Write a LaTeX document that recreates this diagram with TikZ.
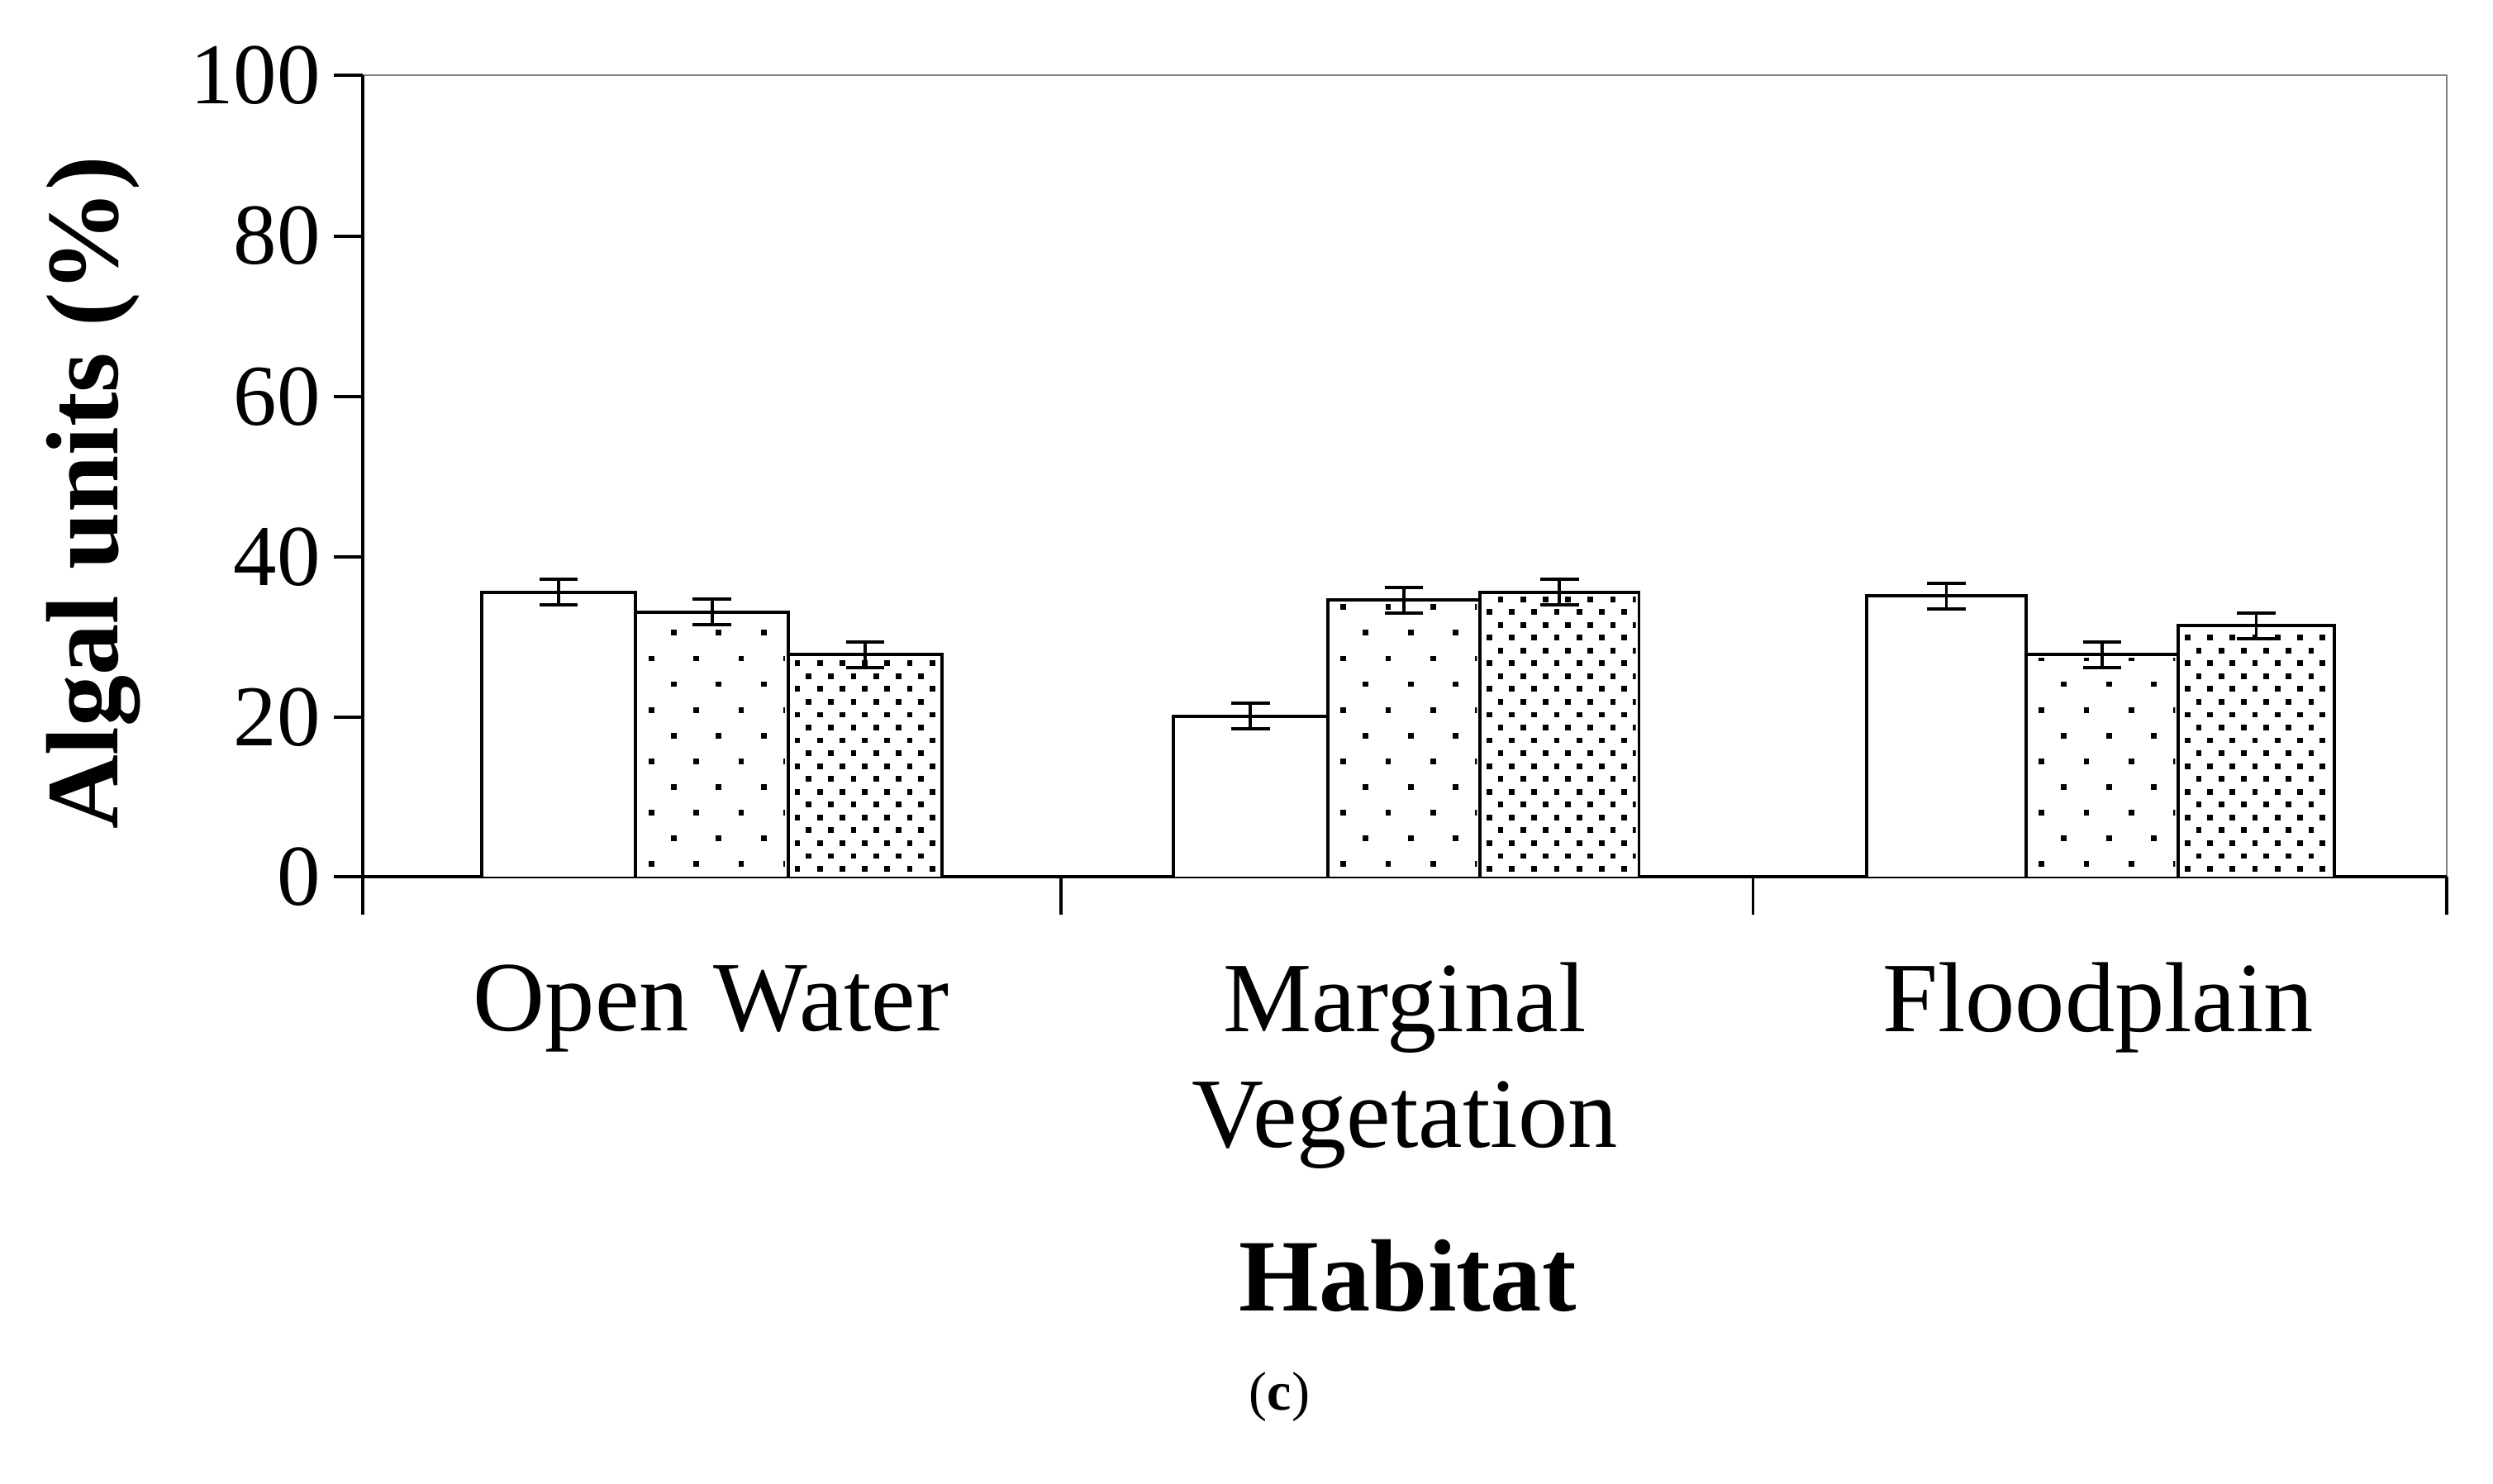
\documentclass[tikz,border=0pt]{standalone}
\usepackage{fontspec}
\setmainfont{Liberation Serif}
\usetikzlibrary{calc}
\begin{document}
\begin{tikzpicture}[x=0.5pt,y=-0.5pt,
  ax/.style={line width=1pt},
  bar/.style={draw,line width=1pt,fill=white},
  eb/.style={line width=1pt},
  tick/.style={font=\fontsize{27}{30}\selectfont,anchor=east,inner sep=0},
  cat/.style={font=\fontsize{31}{36}\selectfont,align=center,inner sep=0}]
\useasboundingbox (0,0) rectangle (1553,924);
\fill[white] (0,0) rectangle (1553,924);
% frame
\draw[line width=0.6pt,gray] (226,47) -- (1524,47) -- (1524,546);
\draw[ax] (226,47) -- (226,570);
\draw[ax] (226,546) -- (1524,546);
\foreach \x in {661,1092,1524} \draw[ax] (\x,546) -- (\x,570);
\foreach \v/\y in {0/546,20/447,40/347,60/247,80/147,100/47}{
  \draw[ax] (208,\y) -- (226,\y);
  \node[tick] (t\v) at (200,\y) {\v};
}
% bars: xl, xr, value, type (0 plain,1 sparse,2 dense)
\foreach \xl/\xr/\v/\t [count=\i] in {300/396/35.5/0,396/491/33/1,491/587/27.7/2,
   731/827/20/0,827/922/34.5/1,922/1021/35.5/2,
   1163/1262/35/0,1262/1357/27.7/1,1357/1454/31.3/2}{
  \pgfmathsetmacro\yt{546-4.99*\v}
  \fill[white] (\xl,546) rectangle (\xr,\yt);
  \ifnum\t=1
    \begin{scope}
    \clip (\xl+2,546) rectangle (\xr-2,\yt+2);
    \foreach \r in {0,...,20}{
      \pgfmathsetmacro\off{mod(\r,2)*14}
      \foreach \c in {0,...,4}{
        \fill (\xl+8+\off+28*\c,540-16*\r) rectangle ++(3.5,-3.5);
      }}
    \end{scope}
  \fi
  \ifnum\t=2
    \begin{scope}
    \clip (\xl+2,546) rectangle (\xr-2,\yt+2);
    \foreach \r in {0,...,40}{
      \pgfmathsetmacro\off{mod(\r,2)*7}
      \foreach \c in {0,...,8}{
        \fill (\xl+4+\off+14*\c,543-8*\r) rectangle ++(3.5,-3.5);
      }}
    \end{scope}
  \fi
  \draw[bar,fill=none] (\xl,546) -- (\xl,\yt) -- (\xr,\yt) -- (\xr,546);
  \coordinate (b\i) at ({(\xl+\xr)/2},\yt);
  \draw[eb] ($(b\i)+(0,-8)$) -- ($(b\i)+(0,8)$);
  \draw[eb] ($(b\i)+(-12,-8)$) -- ($(b\i)+(12,-8)$);
  \draw[eb] ($(b\i)+(-12,8)$) -- ($(b\i)+(12,8)$);
}
\node[cat] (c1) at (443,628) {Open Water};
\node[cat] (c2) at (875,664) {Marginal\\Vegetation};
\node[cat] (c3) at (1307,628) {Floodplain};
\node[font=\bfseries\fontsize{32}{36}\selectfont,inner sep=0] (xl) at (877,795) {Habitat};
\node[font=\bfseries\fontsize{32}{36}\selectfont,inner sep=0,rotate=90] (yl) at (58,307) {Algal units (\%)};
\node[font=\fontsize{17}{20}\selectfont,inner sep=0] (lab) at (797,870) {(\textbf{c})};
\end{tikzpicture}
\end{document}
